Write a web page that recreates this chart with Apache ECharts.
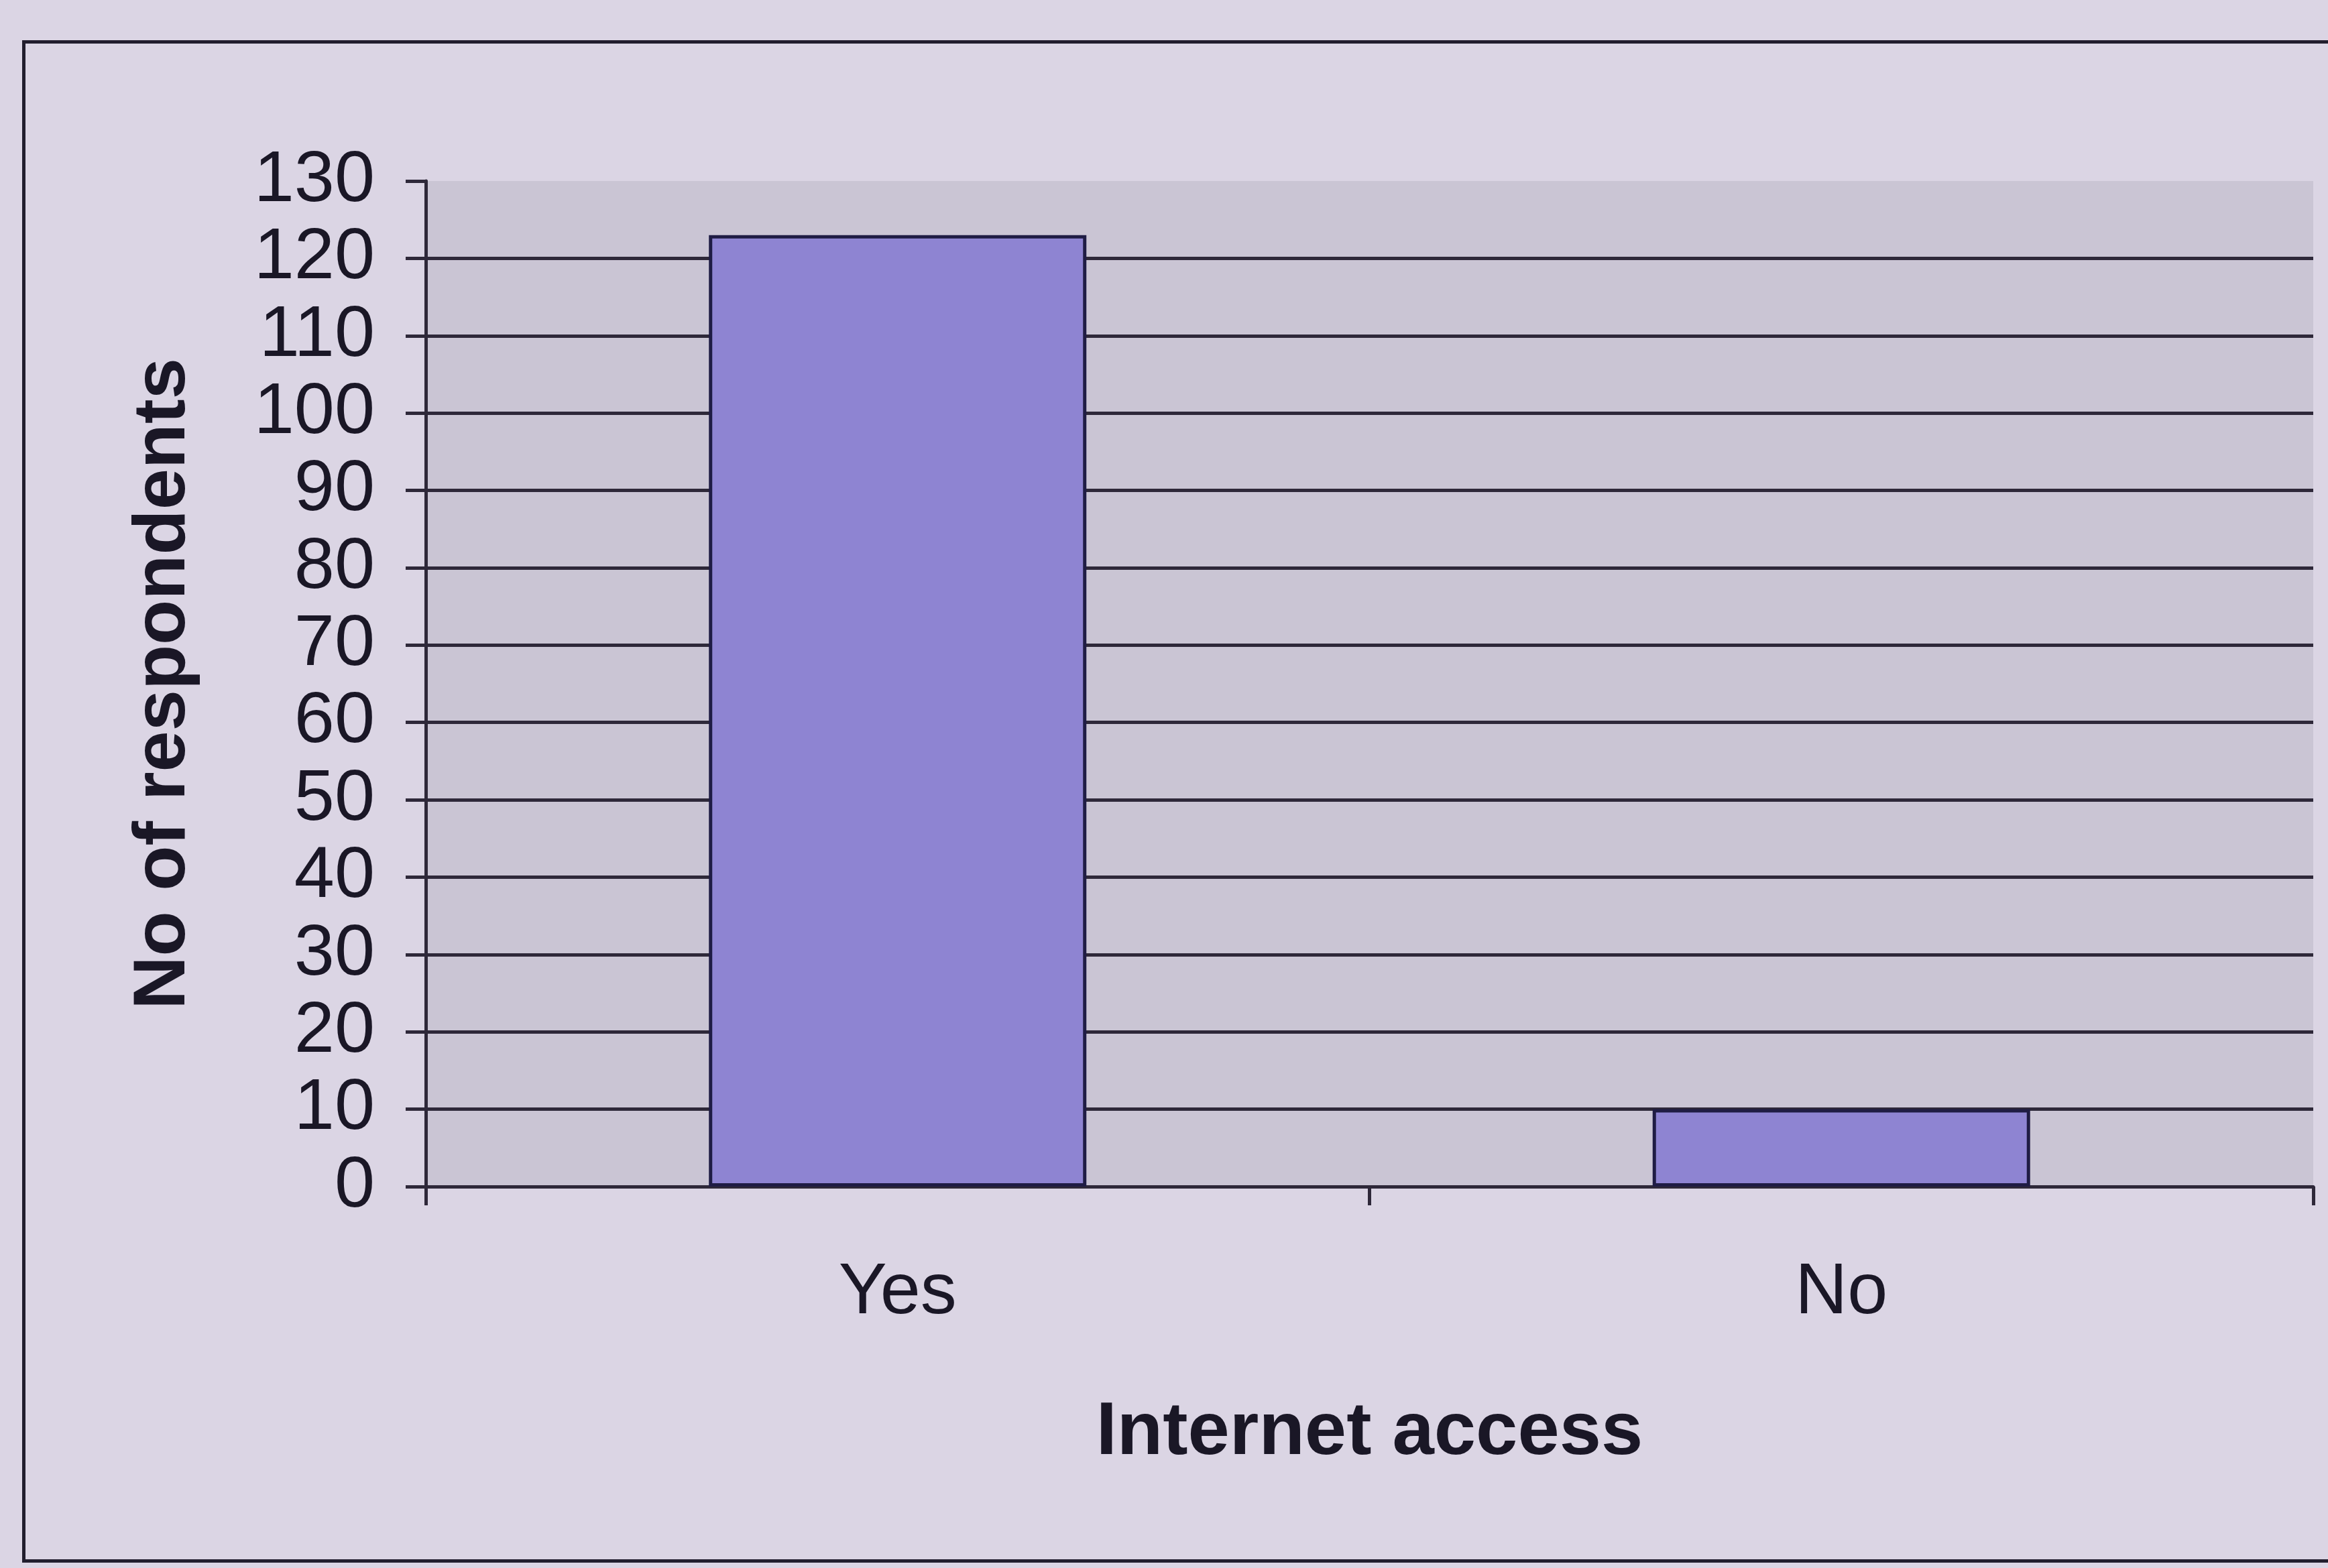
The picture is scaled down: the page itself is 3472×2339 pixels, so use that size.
<!DOCTYPE html>
<html>
<head>
<meta charset="utf-8">
<title>Internet access</title>
<script src="https://cdn.jsdelivr.net/npm/echarts@6/dist/echarts.min.js"></script>
<style>
  html, body { margin: 0; padding: 0; background: #dbd5e4; }
  #chart { width: 3472px; height: 2339px; }
</style>
</head>
<body>
<div id="chart"></div>
<script>
// Survey answers: does the respondent have internet access?
const categories = ['Yes', 'No'];
const respondents = [123, 10];

// Value axis range and step
const yMin = 0;
const yMax = 130;
const yStep = 10;

const ink = '#1a1726';
const lineInk = '#2e2839';

const chart = echarts.init(document.getElementById('chart'), null, { renderer: 'canvas' });

chart.setOption({
  backgroundColor: '#dbd5e4',
  animation: false,
  textStyle: { fontFamily: 'Liberation Sans, Arial, sans-serif', color: ink },
  graphic: [
    {
      // outer chart-area border
      type: 'rect',
      left: 33,
      top: 60,
      shape: { width: 3500, height: 2266 },
      style: { fill: 'none', stroke: '#221e2e', lineWidth: 5 },
      silent: true
    }
  ],
  grid: {
    left: 635,
    right: 22,
    top: 270,
    bottom: 569,
    show: true,
    backgroundColor: '#cac5d4',
    borderWidth: 0
  },
  xAxis: {
    type: 'category',
    data: categories,
    name: 'Internet access',
    nameLocation: 'middle',
    nameGap: 312,
    nameTextStyle: { fontSize: 112, fontWeight: 'bold', color: ink },
    axisLine: { show: true, lineStyle: { color: lineInk, width: 5 } },
    axisTick: { show: true, length: 28, lineStyle: { color: lineInk, width: 5 } },
    axisLabel: { fontSize: 108, color: ink, margin: 105 },
    splitLine: { show: false }
  },
  yAxis: {
    type: 'value',
    min: yMin,
    max: yMax,
    interval: yStep,
    name: 'No of respondents',
    nameLocation: 'middle',
    nameGap: 335,
    nameRotate: 90,
    nameTextStyle: { fontSize: 110, fontWeight: 'bold', color: ink },
    axisLine: { show: true, lineStyle: { color: lineInk, width: 5 } },
    axisTick: { show: true, length: 30, lineStyle: { color: lineInk, width: 5 } },
    axisLabel: { fontSize: 108, color: ink, margin: 76 },
    splitLine: { show: true, showMaxLine: false, lineStyle: { color: lineInk, width: 5 } }
  },
  series: [
    {
      type: 'bar',
      data: respondents,
      barWidth: '40%',
      itemStyle: {
        color: '#8e84d2',
        borderColor: '#1f1c44',
        borderWidth: 5
      }
    }
  ]
});
</script>
</body>
</html>
